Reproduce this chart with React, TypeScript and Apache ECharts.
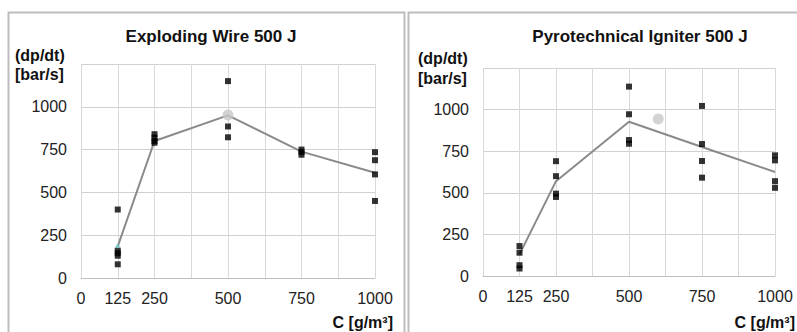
import React, { useEffect, useRef } from "react";
import * as echarts from "echarts";

// Exploding Wire 500 J
const ewPoints: [number, number][] = [
  [125, 400], [125, 160], [125, 145], [125, 130], [125, 80],
  [250, 840], [250, 820], [250, 800], [250, 790],
  [500, 1150], [500, 885], [500, 822],
  [750, 750], [750, 735], [750, 720],
  [1000, 735], [1000, 688], [1000, 605], [1000, 450],
];
const ewLine: [number, number][] = [[125, 185], [250, 800], [500, 950], [750, 738], [1000, 615]];
const ewMean: [number, number][] = [[500, 952]];
const ewCyan: [number, number][] = [[125, 185]];

// Pyrotechnical Igniter 500 J
const piPoints: [number, number][] = [
  [125, 180], [125, 140], [125, 65], [125, 45],
  [250, 690], [250, 600], [250, 495], [250, 475],
  [500, 1138], [500, 972], [500, 817], [500, 795],
  [750, 1022], [750, 793], [750, 691], [750, 591],
  [1000, 725], [1000, 695], [1000, 570], [1000, 530],
];
const piLine: [number, number][] = [[125, 130], [250, 570], [500, 927], [750, 775], [1000, 625]];
const piMean: [number, number][] = [[600, 943]];

const titles = ["Exploding Wire 500 J", "Pyrotechnical Igniter 500 J"];
const xShown = [0, 125, 250, 500, 750, 1000];
const yShown = [0, 250, 500, 750, 1000];
const xName = "C [g/m³]";
const yName = ["(dp/dt)", "[bar/s]"];

const FONT = "'Liberation Sans', Arial, sans-serif";

export default function App() {
  const ref = useRef<HTMLDivElement>(null);
  useEffect(() => {
    if (!ref.current) return;
    const chart = echarts.init(ref.current, undefined, { renderer: "svg" });
    const grids = [
      { left: 81, right: 422, top: 64, bottom: 54 },
      { left: 483, right: 22, top: 68, bottom: 56 },
    ];
    const xAxis = grids.map((_, i) => ({
      type: "value" as const,
      gridIndex: i,
      min: 0,
      max: 1000,
      interval: 125,
      axisLine: { show: true, lineStyle: { color: "#bfbfbf", width: 1 } },
      axisTick: { show: false },
      splitLine: { show: true, lineStyle: { color: "#d9d9d9", width: 1 } },
      axisLabel: {
        show: true,
        margin: 12,
        color: "#222",
        fontFamily: FONT,
        fontSize: 16,
        formatter: (v: number) => (xShown.includes(v) ? String(v) : ""),
      },
    }));
    const yAxis = grids.map((_, i) => ({
      type: "value" as const,
      gridIndex: i,
      min: 0,
      max: 1250,
      interval: 250,
      axisLine: { show: false },
      axisTick: { show: false },
      splitLine: { show: true, lineStyle: { color: "#d0d0d0", width: 1 } },
      axisLabel: {
        show: true,
        margin: 14,
        color: "#222",
        fontFamily: FONT,
        fontSize: 16,
        formatter: (v: number) => (yShown.includes(v) ? String(v) : ""),
      },
    }));
    const mkSeries = (
      idx: number,
      pts: [number, number][],
      line: [number, number][],
      mean: [number, number][]
    ) => [
      {
        type: "line",
        xAxisIndex: idx,
        yAxisIndex: idx,
        data: line,
        showSymbol: false,
        symbol: "none",
        lineStyle: { color: "#8a8a8a", width: 2 },
        z: 2,
      },
      {
        type: "scatter",
        xAxisIndex: idx,
        yAxisIndex: idx,
        data: pts,
        symbol: "rect",
        symbolSize: 6,
        itemStyle: { color: "#000" },
        z: 3,
      },
      {
        type: "scatter",
        xAxisIndex: idx,
        yAxisIndex: idx,
        data: mean,
        symbol: "circle",
        symbolSize: 11,
        itemStyle: { color: "#c8c8c8" },
        z: 4,
      },
    ];
    const textStyle = (x: number, y: number, text: string, align = "center", size = 16) => ({
      type: "text" as const,
      x,
      y,
      style: {
        text,
        fill: "#111",
        font: `bold ${size}px ${FONT}`,
        align,
        verticalAlign: "middle",
      },
    });
    chart.setOption({
      animation: false,
      backgroundColor: "#fff",
      grid: grids,
      xAxis,
      yAxis,
      series: [
        ...mkSeries(0, ewPoints, ewLine, ewMean),
        {
          type: "scatter",
          xAxisIndex: 0,
          yAxisIndex: 0,
          data: ewCyan,
          symbol: "circle",
          symbolSize: 4,
          itemStyle: { color: "#6cc4c8" },
          z: 5,
        },
        ...mkSeries(1, piPoints, piLine, piMean),
      ],
      graphic: [
        {
          type: "rect",
          shape: { x: 8.5, y: 12.5, width: 396, height: 330 },
          style: { fill: "none", stroke: "#bdbdbd", lineWidth: 2 },
          silent: true,
        },
        {
          type: "rect",
          shape: { x: 408.5, y: 12.5, width: 400, height: 330 },
          style: { fill: "none", stroke: "#bdbdbd", lineWidth: 2 },
          silent: true,
        },
        textStyle(211, 36, titles[0], "center", 17),
        textStyle(640, 36, titles[1], "center", 17),
        textStyle(15, 55, yName[0], "left"),
        textStyle(15, 74, yName[1], "left"),
        textStyle(418, 58, yName[0], "left"),
        textStyle(418, 78, yName[1], "left"),
        textStyle(393, 322, xName, "right"),
        textStyle(795, 322, xName, "right"),
      ],
    });
    return () => chart.dispose();
  }, []);
  return <div ref={ref} style={{ width: 797, height: 332, position: "absolute", left: 0, top: 0 }} />;
}
